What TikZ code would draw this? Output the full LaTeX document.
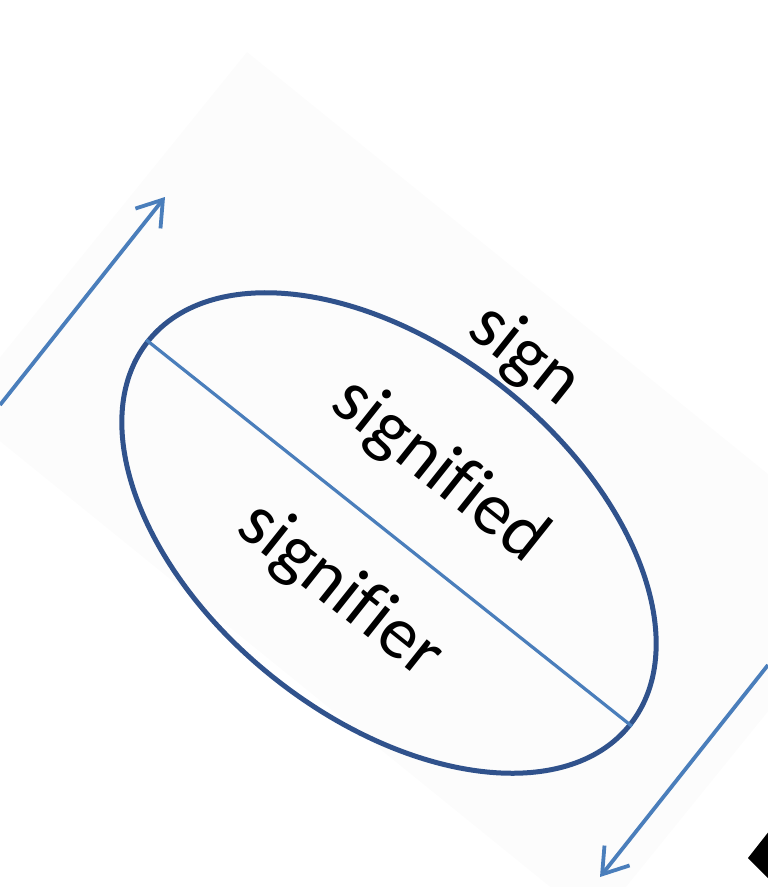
\documentclass[tikz,border=0pt]{standalone}
\usepackage{xcolor}
\usepackage{fontspec}
\setmainfont{Carlito}[Ligatures=NoCommon]
\usepackage{tikz}
\usetikzlibrary{arrows.meta, positioning, shapes}
\definecolor{signdark}{RGB}{48, 82, 140}
\definecolor{signblue}{RGB}{74, 126, 187}
\definecolor{pagegray}{RGB}{252, 252, 252}

\begin{document}
\begin{tikzpicture}[
    x=1pt, y=1pt,
    outline/.style={ellipse, draw=signdark, line width=5pt, minimum width=616pt, minimum height=370pt, inner sep=0pt},
    divider/.style={draw=signblue, line width=3.2pt},
    arrow/.style={-{Straight Barb[length=24pt, width=32pt]}, draw=signblue, line width=3.8pt},
    lbl/.style={font=\fontsize{74}{80}\selectfont, inner sep=0pt, text=black}
]
    \useasboundingbox (0,0) rectangle (768,-887);
    \clip (0,0) rectangle (768,-887);

    % Page
    \fill[pagegray] (247,-52) -- (884,-568) -- (596,-924) -- (-41,-408) -- cycle;
    \fill[black] (748,-858) -- (770,-830) -- (770,-880) -- cycle;

    % Sign
    \begin{scope}[shift={(389,-533)}, rotate=-38.5, transform shape]
        \node[outline] (sign) at (0,0) {};
        \draw[divider] (sign.west) -- (sign.east);
        \node[lbl] (signlbl) at (-4,223) {sign};
        \node[lbl] (signified) at (1,80) {signified};
        \node[lbl] (signifier) at (-2,-76) {signifier};
    \end{scope}

    % Arrows
    \coordinate (uptail) at (0,-405);
    \coordinate (uphead) at (165,-197);
    \coordinate (downtail) at (768,-665);
    \coordinate (downhead) at (600,-877);
    \draw[arrow] (uptail) -- (uphead);
    \draw[arrow] (downtail) -- (downhead);
\end{tikzpicture}
\end{document}
